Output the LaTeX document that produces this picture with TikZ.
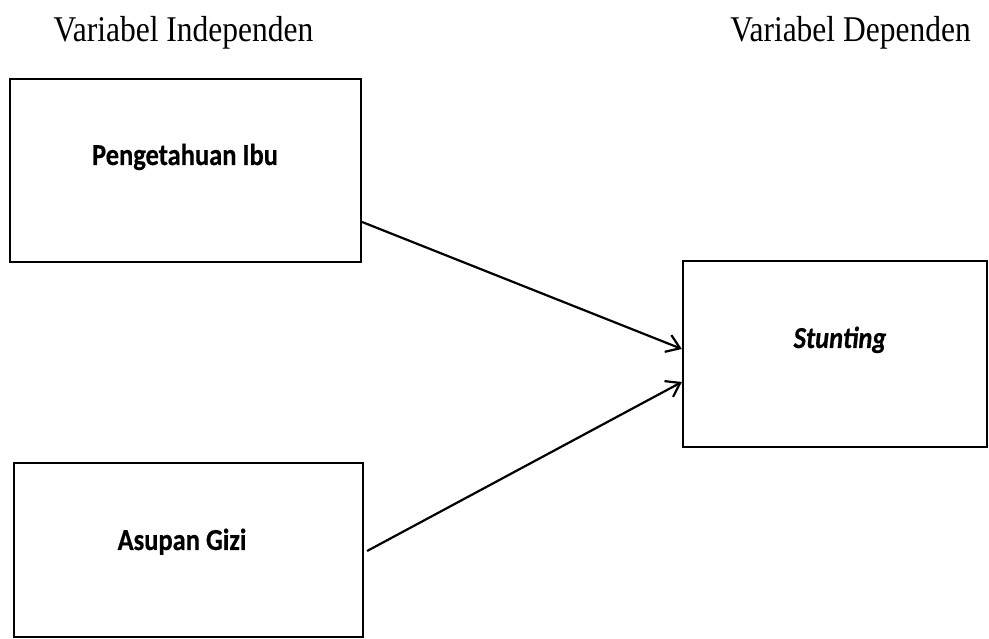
\documentclass[tikz,border=0pt]{standalone}
\usepackage{fontspec}
\setmainfont{Liberation Serif}
\newfontfamily\boxfont[BoldFeatures={FakeBold=0.6},BoldItalicFeatures={FakeBold=0.6}]{Carlito}
\usetikzlibrary{arrows.meta,calc}
\newcommand{\vstretch}[1]{\scalebox{1}[1.15]{#1}}
\begin{document}
\begin{tikzpicture}[x=1pt,y=1pt,
  varbox/.style={draw=black,line width=2.2pt,minimum width=#1,inner sep=0pt},
  boxtext/.style={font=\boxfont\bfseries\fontsize{26.5}{30}\selectfont,inner sep=0pt,anchor=base},
  title/.style={font=\fontsize{31.5}{36}\selectfont,inner sep=0pt,anchor=base},
  link/.style={line width=2.2pt,-{Straight Barb[length=13pt,width=18pt,line width=2.2pt]}}]
\useasboundingbox (0,0) rectangle (989,639);
% titles
\node[title] (tind) at (183.5,597) {\vstretch{Variabel Independen}};
\node[title] (tdep) at (850.5,597) {\vstretch{Variabel Dependen}};
% boxes
\node[varbox=351pt,minimum height=183pt] (b1) at (185.5,468.5) {};
\node[varbox=349pt,minimum height=174pt] (b2) at (188.5,89) {};
\node[varbox=304pt,minimum height=186pt] (b3) at (835,285) {};
% box texts
\node[boxtext] (t1) at (185,474) {\vstretch{Pengetahuan Ibu}};
\node[boxtext] (t2) at (182,89) {\vstretch{Asupan Gizi}};
\node[boxtext] (t3) at (840,291) {\vstretch{\itshape Stunting}};
% connectors
\coordinate (s1) at ($(b1.east)+(0,-51.5)$);
\coordinate (s2) at ($(b2.east)+(3,-1)$);
\coordinate (e1) at ($(b3.west)+(0,5)$);
\coordinate (e2) at ($(b3.west)+(0,-28)$);
\draw[link] (s1) -- (e1);
\draw[link] (s2) -- (e2);
\end{tikzpicture}
\end{document}
